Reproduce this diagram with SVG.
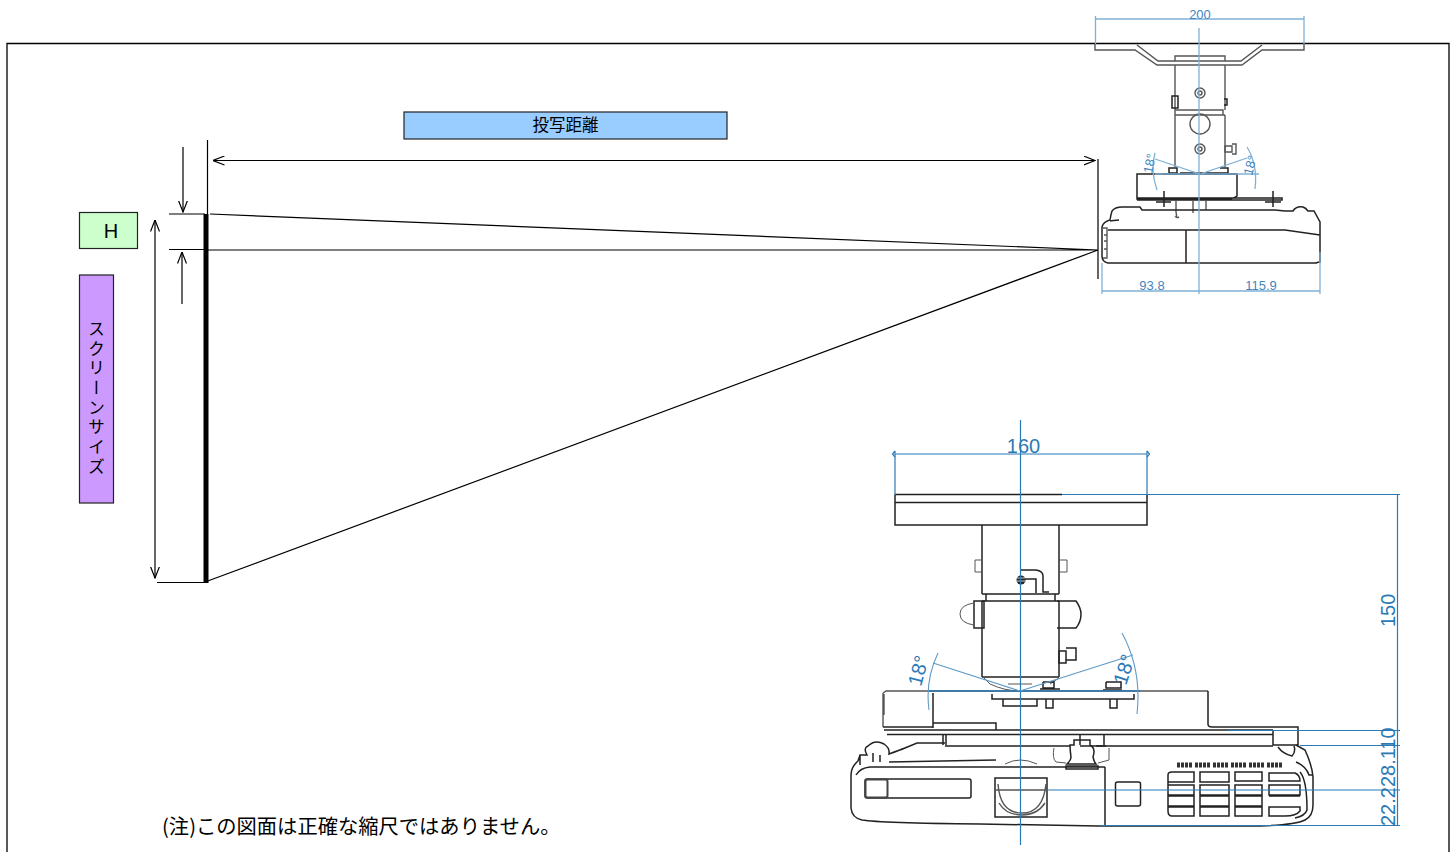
<svg xmlns="http://www.w3.org/2000/svg" width="1455" height="852" viewBox="0 0 1455 852">
<defs>
<marker id="open" viewBox="0 0 12 10" refX="11.5" refY="5" markerWidth="12" markerHeight="10" markerUnits="userSpaceOnUse" orient="auto-start-reverse"><path d="M0 0.5L11.5 5L0 9.5" fill="none" stroke="#000" stroke-width="1.2"/></marker>
</defs>
<style>
.k{fill:none;stroke:#000;stroke-width:1.2}
.d{fill:none;stroke:#222;stroke-width:1.5}
.g{fill:none;stroke:#555;stroke-width:1}
.m{fill:none;stroke:#555;stroke-width:1.4}
.b{fill:none;stroke:#2b7ab5;stroke-width:1.2}
.l{fill:none;stroke:#7fb1d6;stroke-width:1.3}
.bt{fill:#2b7ab5;font-family:"Liberation Sans",Arial,sans-serif;font-size:20px}
.lt{fill:#3f86bf;font-family:"Liberation Sans",Arial,sans-serif;font-size:13px}
.lab{stroke:#222;stroke-width:1.2}
.jp{fill:#000;font-family:"Noto Sans CJK JP","Noto Sans",sans-serif}
</style>
<rect width="1455" height="852" fill="#fff"/>
<path id="frame" d="M7 852V43.500H1449V852" fill="none" stroke="#000" stroke-width="1.300"/>

<g id="connectors">
<path class="k" d="M207.500 140V214M169 214H205M169 249.500H205M157 582.500H205M1098 159V279"/>
<path class="k" d="M210 214L1098 250M205 250H1098M205 582L1098 250"/>
<path class="k" d="M183 147V212" marker-end="url(#open)"/>
<path class="k" d="M182 304V252" marker-end="url(#open)"/>
<path class="k" d="M155 220V578" marker-start="url(#open)" marker-end="url(#open)"/>
<path class="k" d="M213 160.500H1095" marker-start="url(#open)" marker-end="url(#open)"/>
</g>

<g id="screen"><rect x="203.500" y="214" width="5" height="369" fill="#000"/></g>
<g id="label-distance"><rect class="lab" x="404" y="112" width="323" height="27" fill="#99ccff"/><text class="jp" x="565.500" y="131" font-size="16.500" text-anchor="middle">投写距離</text></g>
<g id="label-h"><rect class="lab" x="79.500" y="212.500" width="58" height="36" fill="#ccffcc"/><text x="111" y="238" font-size="20" text-anchor="middle" font-family="'Liberation Sans',Arial,sans-serif">H</text></g>
<g id="label-screen"><rect class="lab" x="79.500" y="275" width="34" height="228" fill="#cc99ff"/><text class="jp" x="96.500" y="320" font-size="17" letter-spacing="2.700" style="writing-mode:vertical-rl">スクリーンサイズ</text></g>
<g id="note"><text class="jp" x="162" y="834" font-size="20.300">(注)この図面は正確な縮尺ではありません。</text></g>

<g id="projector-top">
<path class="m" d="M1095 44V50H1135L1157 65H1242L1262 50H1304V44"/>
<path class="m" d="M1137 45L1158 61H1241L1262 45M1175 61V56H1225V61M1175 65V110H1223V115M1225 65V110M1175 110V115M1175 115V167M1225 115V167M1225 115H1175"/>
<circle class="m" cx="1200" cy="124" r="10"/>
<circle class="m" cx="1200" cy="93" r="5"/><circle class="m" cx="1200" cy="93" r="2"/>
<circle class="m" cx="1200" cy="149" r="5"/><circle class="m" cx="1200" cy="149" r="2"/>
<path class="d" d="M1172 96V108H1178V96ZM1224 99H1227V105H1224"/>
<path class="m" d="M1225 146H1232V152H1225ZM1232 144H1236V154H1232"/>
<path class="d" d="M1169 168H1177V173H1169ZM1220 168H1228V173H1220M1162 174H1237M1180 173H1222"/>
<path class="d" d="M1137 174H1237V196Q1236 197 1230 199H1137ZM1137 198H1282V200H1205M1137 200H1205" stroke-width="1.200"/>
<path class="d" d="M1164 191V207M1156 202H1171M1273 191V207M1265 202H1281" stroke-width="1"/>
<path class="m" d="M1176 200V212M1193 200V213M1176 212Q1177 217 1176 217Q1177 218 1179 217M1206 200V210"/>
<path class="d" d="M1112 211Q1115 207 1122 207H1140L1142 210H1275L1285 211H1293Q1296 206 1303 207Q1306 208 1308 211H1314L1320 222L1320 262Q1318 262 1316 263H1108Q1102 262 1102 256V227Q1103 222 1110 220Q1111 214 1112 211" stroke-width="1.300"/>
<path class="d" d="M1108 230H1285L1320 235M1110 221Q1118 220 1119 220M1186 230V263" stroke-width="1.300"/>
<path class="m" d="M1103 228H1107V258H1103M1104 235H1107M1104 241H1107M1104 249H1107"/>
<path class="l" d="M1095.500 16V44M1304 16V44M1095.500 19H1304M1199 28V265M1102 263V294M1320 252V294M1102 291H1320M1199 263V294"/>
<path class="l" d="M1155 153Q1150 170 1157 190M1247 147Q1258 165 1255 189M1155 174H1259M1155 159L1200 174L1247 158"/>
<text class="lt" x="1200" y="19" text-anchor="middle">200</text>
<text class="lt" x="1152" y="290" text-anchor="middle">93.8</text>
<text class="lt" x="1261" y="290" text-anchor="middle">115.9</text>
<text class="lt" transform="translate(1152 174) rotate(-78)">18°</text>
<text class="lt" transform="translate(1252 176) rotate(-75)">18°</text>
</g>

<g id="projector-bottom">
<path class="d" d="M895 494.500H1062M895 502.500H1147M895 494.500V525H1147V494.500"/>
<path class="d" d="M982 525V594M1059 525V594M986 594H1055M986 594V601M1055 594V601M982 601H1059M982 601V677M1059 601V677M982 677H1059M982 594H1035M1050 594H1059"/>
<path class="g" d="M982 560H975V572H982M1059 560H1067V572H1059"/>
<path class="d" d="M1020 570H1036Q1043 571 1043 576V592H1049M1020 579H1036V593" stroke-width="1.300"/>
<circle cx="1021" cy="580" r="4.500" fill="#222"/><path d="M1017 578H1025M1017 581H1025" stroke="#fff" stroke-width=".8"/>
<path class="d" d="M974 601H984V628H974Z"/>
<path class="g" d="M974 603Q960 605 960 614Q960 623 974 625"/>
<path class="d" d="M1057 601H1076Q1081 608 1081 614Q1081 622 1076 628H1057"/>
<path class="d" d="M1059 651H1066V663H1059ZM1066 648H1076V660H1066"/>
<path class="g" d="M984 678L990 684Q1005 691 1020 691M1059 678L1050 684M1008 684H1032"/>
<path class="d" d="M1043 682V688H1054V682H1043M1040 689H1060M1106 682V688H1121V682H1106M1103 690H1122" stroke-width="1.300"/>
<path class="m" d="M883 693V727M883 693L886 691H1208M884 694V715"/>
<path class="d" d="M933 693V728M883 727H933M933 723H996V730M884 730H1273M887 734.500H1273M992 694V699H1134V694M1003 699V706H1037V699M1046 699V708H1053V699M1110 699V708H1117V699M1208 691V724Q1208 727 1212 727H1298V745H1273V731" stroke-width="1.200"/>
<path class="d" d="M946 735V745M943 735V745M1080 735V745M1104 735V745M1080 746H1106"/>
<path class="d" d="M945 746H1070M1096 746H1273"/>
<path class="d" d="M1070 745H1074V740H1090V745Q1096 748 1093 757Q1094 762 1096 764H1067Q1071 760 1071 757Q1070 750 1070 745ZM1066 766H1098V769H1066Z" fill="#fff"/>
<path class="g" d="M1054 748Q1052 758 1056 762L1066 763M1109 748V760L1098 763"/>
<path class="d" d="M851 775Q851 767 858 761L860 755H867Q863 748 868 746Q875 739 884 744Q890 748 889 754Q900 750 905 748L917 743H945M860 755V765M880 755V762M873 753V762"/>
<path class="d" d="M889 762L996 760" stroke-width="3.500"/>
<path class="g" d="M1005 764Q1020 756 1037 764"/>
<path class="d" d="M856 775Q860 768 870 767H1105"/>
<path class="d" d="M851 775V808Q852 818 862 820Q880 823 980 824L1098 826H1260Q1295 825 1305 820Q1313 816 1313 805V777Q1312 765 1305 750L1296 745M1105 767V826"/>
<rect class="d" x="865" y="779" width="106" height="19" rx="2" stroke-width="1.200"/>
<rect x="865.500" y="779.500" width="22" height="18" rx="2" fill="none" stroke="#444" stroke-width="2"/>
<rect class="d" x="995" y="778" width="52" height="39"/>
<path class="m" d="M998 784Q1000 813 1022 813Q1043 813 1046 784M999 803Q1006 815 1022 815Q1037 815 1045 803M994 790H1047"/>
<rect class="d" x="1115.500" y="782" width="25" height="24" rx="2" stroke-width="1.200"/>
<path d="M1177 765H1285" fill="none" stroke="#333" stroke-width="5" stroke-dasharray="3 1 3 1 3 1 3 3"/>
<path class="d" d="M1168 775Q1168 772 1172 772H1194V782H1168ZM1168 775V811M1200 772H1229V782H1200ZM1235 772H1262V781H1235ZM1269 773H1295Q1300 775 1300 781H1269ZM1168 785H1194V795H1168M1200 785H1229V795H1200ZM1235 785H1262V795H1235ZM1269 785H1300V795H1269ZM1168 796H1194V806H1168M1200 796H1229V806H1200ZM1235 796H1262V806H1235ZM1269 796H1300M1168 807H1194V816H1172Q1168 816 1168 811ZM1200 807H1229V816H1200ZM1235 807H1262V816H1235ZM1269 807H1300V811Q1296 816 1285 816H1269Z" stroke-width="1.100"/>
<path class="d" d="M1278 747Q1283 754 1292 756Q1296 752 1294 746M1296 762Q1306 766 1309 775H1313M1300 772Q1307 780 1307 810Q1305 816 1295 818"/>
<path class="b" d="M1020.500 420V845M895 451V495M1147 451V495M895 454H1147M1062 494.500H1400M1228 730.500H1400M1300 745.500H1400M1047 790H1400M1100 825.500H1400M1397.500 494V826"/>
<path class="b" d="M895 451L892.500 454L895 457M1147 451L1149.500 454L1147 457"/>
<path d="M929 691H1140" fill="none" stroke="#2b7ab5" stroke-width="1.600"/>
<path d="M1020 691L933 663M1020 691L1133 655M929 710Q925 680 938 653M1122 633Q1142 670 1137 714" fill="none" stroke="#5f9ac6" stroke-width="1.100"/>
<text class="bt" x="1023.500" y="453" text-anchor="middle">160</text>
<text class="bt" transform="translate(1395 627) rotate(-90)">150</text>
<text class="bt" transform="translate(1395 826) rotate(-90)">22.228.110</text>
<text class="bt" transform="translate(921 687) rotate(-75)">18°</text>
<text class="bt" transform="translate(1126 686) rotate(-72)">18°</text>
</g>
</svg>
